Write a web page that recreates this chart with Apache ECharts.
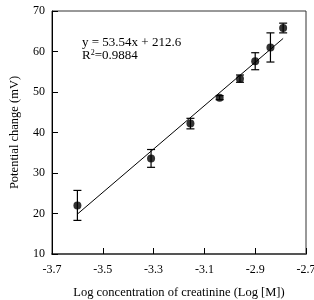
<!DOCTYPE html>
<html>
<head>
<meta charset="utf-8">
<script src="https://cdn.jsdelivr.net/npm/echarts@6/dist/echarts.min.js"></script>
<style>
  html, body { margin: 0; padding: 0; background: #fff; }
  #chart { width: 314px; height: 300px; }
</style>
</head>
<body>
<div id="chart"></div>
<script>
  // log concentration of creatinine
  var logConc = [-3.60, -3.31, -3.155, -3.04, -2.96, -2.90, -2.84, -2.79];
  // potential change (mV)
  var potential = [22.0, 33.6, 42.2, 48.6, 53.3, 57.6, 61.0, 65.8];
  // error bar half widths
  var errs = [3.7, 2.2, 1.3, 0.5, 0.9, 2.1, 3.6, 1.2];
  var slope = 53.54;
  var intercept = 212.6;

  var pts = [];
  var bars = [];
  for (var i = 0; i < logConc.length; i++) {
    pts.push([logConc[i], potential[i]]);
    bars.push([logConc[i], potential[i] - errs[i], potential[i] + errs[i]]);
  }
  var xa = logConc[0], xb = logConc[logConc.length - 1];
  var fit = [[xa, slope * xa + intercept], [xb, slope * xb + intercept]];

  var font = 'Liberation Serif';
  var myChart = echarts.init(document.getElementById('chart'));
  myChart.setOption({
    animation: false,
    grid: { left: 52, right: 8, top: 11, bottom: 46, show: true, borderColor: '#333', borderWidth: 1,
      containLabel: false, outerBoundsMode: 'none' },
    xAxis: {
      type: 'value', min: -3.7, max: -2.7, interval: 0.2,
      name: 'Log concentration of creatinine (Log [M])',
      nameLocation: 'middle', nameGap: 32,
      nameTextStyle: { fontFamily: font, fontSize: 12.5, color: '#000' },
      axisLine: { lineStyle: { color: '#555', width: 2 } },
      axisTick: { inside: true, length: 6, lineStyle: { color: '#000' } },
      axisLabel: { fontFamily: font, fontSize: 12, color: '#000', margin: 10,
        formatter: function (v) { return v.toFixed(1); } },
      splitLine: { show: false }
    },
    yAxis: {
      type: 'value', min: 10, max: 70, interval: 10,
      name: 'Potential change (mV)',
      nameLocation: 'middle', nameGap: 31,
      nameTextStyle: { fontFamily: font, fontSize: 12.5, color: '#000' },
      axisLine: { lineStyle: { color: '#000', width: 1 } },
      axisTick: { inside: true, length: 6, lineStyle: { color: '#000' } },
      axisLabel: { fontFamily: font, fontSize: 12, color: '#000', margin: 7 },
      splitLine: { show: false }
    },
    graphic: [{
      type: 'text', left: 82, top: 36,
      style: { text: 'y = 53.54x + 212.6', font: '13px "Liberation Serif"', fill: '#000' }
    }, {
      type: 'text', left: 82, top: 49,
      style: { text: 'R{s|2}=0.9884', font: '13px "Liberation Serif"', fill: '#000',
        rich: { s: { fontSize: 8, verticalAlign: 'top', fontFamily: font, padding: [0, 0, 6, 0] } } }
    }],
    series: [{
      type: 'line', data: fit, symbol: 'none',
      lineStyle: { color: '#000', width: 1 }
    }, {
      type: 'custom', data: bars,
      renderItem: function (params, api) {
        var top = api.coord([api.value(0), api.value(2)]);
        var bot = api.coord([api.value(0), api.value(1)]);
        var w = 4;
        var st = { stroke: '#000', lineWidth: 1.2 };
        return {
          type: 'group',
          children: [
            { type: 'line', shape: { x1: top[0], y1: top[1], x2: bot[0], y2: bot[1] }, style: st },
            { type: 'line', shape: { x1: top[0] - w, y1: top[1], x2: top[0] + w, y2: top[1] }, style: st },
            { type: 'line', shape: { x1: bot[0] - w, y1: bot[1], x2: bot[0] + w, y2: bot[1] }, style: st }
          ]
        };
      }
    }, {
      type: 'scatter', data: pts, symbol: 'circle', symbolSize: 8,
      itemStyle: { color: '#000' }
    }]
  });
</script>
</body>
</html>
